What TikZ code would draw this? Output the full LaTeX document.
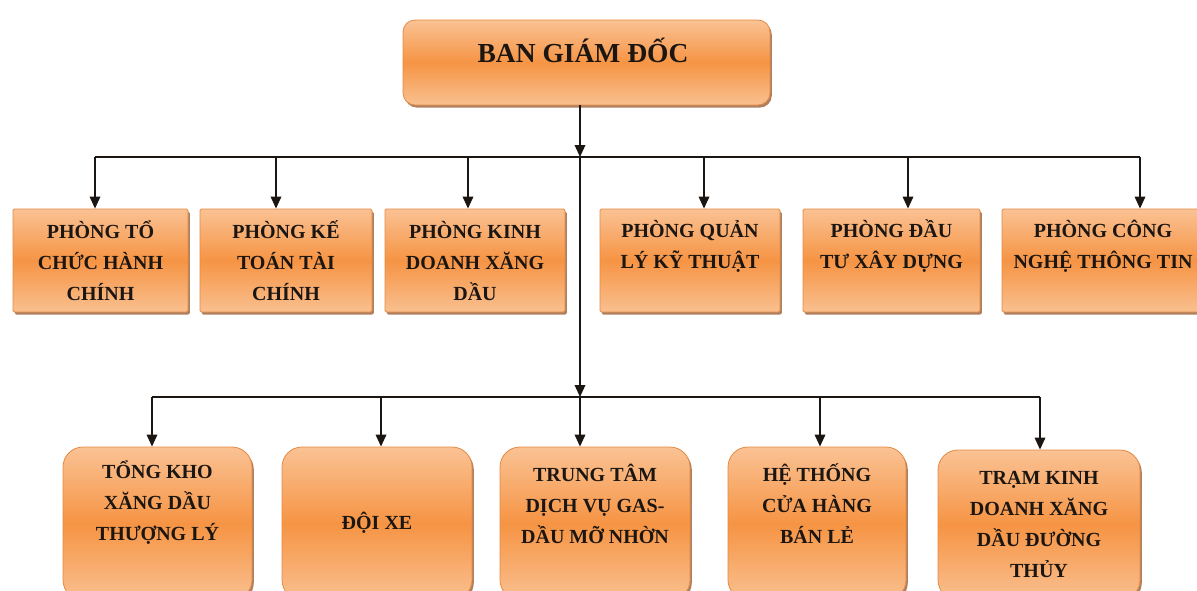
\documentclass[tikz,border=0pt]{standalone}
\usepackage{fontspec}
\setmainfont{Liberation Serif}
\usetikzlibrary{arrows.meta,shadows}
\definecolor{ortop}{RGB}{250,194,148}
\definecolor{ormid}{RGB}{246,148,68}
\definecolor{orbot}{RGB}{249,192,144}
\definecolor{oredge}{RGB}{228,138,68}
\definecolor{orshadow}{RGB}{140,74,28}
\definecolor{inkdark}{RGB}{28,22,18}
\begin{document}
\begin{tikzpicture}[x=1pt,y=-1pt,
  orbox/.style={draw=oredge, line width=0.8pt, inner sep=0pt,
    top color=ortop, bottom color=orbot, middle color=ormid,
    drop shadow={shadow xshift=1.8pt, shadow yshift=-2.6pt, fill=orshadow, opacity=0.7}},
  deptbox/.style={orbox, rounded corners=1.5pt},
  unitbox/.style={orbox, rounded corners=20pt},
  lbl/.style={align=center, text=inkdark, font=\fontsize{20}{31}\selectfont\bfseries},
  conn/.style={draw=inkdark, line width=1.8pt},
  arr/.style={conn, -{Triangle[length=12pt,width=10.5pt]}}]
\useasboundingbox (0,0) rectangle (1197,590);
\clip (0,0) rectangle (1197,590);

% board of directors
\node[orbox, rounded corners=12pt, minimum width=367pt, minimum height=85pt] (bgd) at (586.5,62.5) {};
\node[align=center, text=inkdark, font=\fontsize{27.5}{30}\selectfont\bfseries] (bgdt) at (583,50) {BAN GIÁM ĐỐC};

% departments
\node[deptbox, minimum width=175pt, minimum height=103pt] (p1) at (100.5,260.5) {};
\node[deptbox, minimum width=172pt, minimum height=103pt] (p2) at (286,260.5) {};
\node[deptbox, minimum width=180pt, minimum height=103pt] (p3) at (475,260.5) {};
\node[deptbox, minimum width=180pt, minimum height=103pt] (p4) at (690,260.5) {};
\node[deptbox, minimum width=177pt, minimum height=103pt] (p5) at (891.5,260.5) {};
\node[deptbox, minimum width=208pt, minimum height=103pt] (p6) at (1106,260.5) {};

\node[lbl] (p1t) at (100.5,261) {PHÒNG TỔ\\CHỨC HÀNH\\CHÍNH};
\node[lbl] (p2t) at (286,261) {PHÒNG KẾ\\TOÁN TÀI\\CHÍNH};
\node[lbl] (p3t) at (475,261) {PHÒNG KINH\\DOANH XĂNG\\DẦU};
\node[lbl] (p4t) at (690,246) {PHÒNG QUẢN\\LÝ KỸ THUẬT};
\node[lbl] (p5t) at (891.5,246) {PHÒNG ĐẦU\\TƯ XÂY DỰNG};
\node[lbl] (p6t) at (1103,246) {PHÒNG CÔNG\\NGHỆ THÔNG TIN};

% operating units
\node[unitbox, minimum width=189pt, minimum height=153pt] (q1) at (157.5,523.5) {};
\node[unitbox, minimum width=190pt, minimum height=153pt] (q2) at (377,523.5) {};
\node[unitbox, minimum width=190pt, minimum height=153pt] (q3) at (595,523.5) {};
\node[unitbox, minimum width=178pt, minimum height=153pt] (q4) at (817,523.5) {};
\node[unitbox, minimum width=202pt, minimum height=150pt] (q5) at (1039,525) {};

\node[lbl] (q1t) at (157.5,503) {TỔNG KHO\\XĂNG DẦU\\THƯỢNG LÝ};
\node[lbl] (q2t) at (377,523) {ĐỘI XE};
\node[lbl] (q3t) at (595,504) {TRUNG TÂM\\DỊCH VỤ GAS-\\DẦU MỠ NHỜN};
\node[lbl] (q4t) at (817,504) {HỆ THỐNG\\CỬA HÀNG\\BÁN LẺ};
\node[lbl] (q5t) at (1039,524) {TRẠM KINH\\DOANH XĂNG\\DẦU ĐƯỜNG\\THỦY};

% junctions and branch points
\coordinate (j1) at (580,157);
\coordinate (j2) at (580,397);
\coordinate (a1) at (95,157);
\coordinate (a2) at (276,157);
\coordinate (a3) at (468,157);
\coordinate (a4) at (704,157);
\coordinate (a5) at (908,157);
\coordinate (a6) at (1140,157);
\coordinate (b1) at (152,397);
\coordinate (b2) at (381,397);
\coordinate (b4) at (820,397);
\coordinate (b5) at (1040,397);

% trunk
\draw[arr] (bgd.south -| j1) -- (j1);
\draw[arr] (j1) -- (j2);
\draw[arr] (j2) -- (j2 |- q3.north);

% department bus
\draw[conn] (a1) -- (a6);
\foreach \a/\p in {a1/p1,a2/p2,a3/p3,a4/p4,a5/p5,a6/p6}
  \draw[arr] (\a) -- (\a |- \p.north);

% unit bus
\draw[conn] (b1) -- (b5);
\foreach \b/\q in {b1/q1,b2/q2,b4/q4,b5/q5}
  \draw[arr] (\b) -- (\b |- \q.north);
\end{tikzpicture}
\end{document}
